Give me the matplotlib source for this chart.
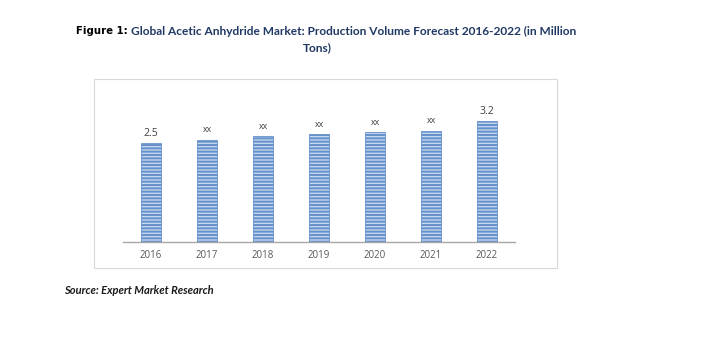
import matplotlib.pyplot as plt
from matplotlib.patches import Rectangle

# data
years = ['2016', '2017', '2018', '2019', '2020', '2021', '2022']
volume = [2.5, 2.6, 2.72, 2.78, 2.84, 2.89, 3.2]
value_labels = ['2.5', 'xx', 'xx', 'xx', 'xx', 'xx', '3.2']

plt.rcParams['hatch.linewidth'] = 1.4

W, H = 702, 339
fig = plt.figure(figsize=(W / 100, H / 100), dpi=100)
fig.patch.set_facecolor('white')

# outer chart frame (light grey)
fig.patches.append(Rectangle((94 / W, 1 - 268 / H), (557 - 94) / W, (268 - 79) / H,
                             transform=fig.transFigure, fill=False,
                             edgecolor='#d9d9d9', linewidth=0.8))

# plot area in pixel coords
left, right, top, bottom = 123, 515, 95, 241.7
ax = fig.add_axes([left / W, 1 - bottom / H, (right - left) / W, (bottom - top) / H])

# the value axis of the original does not start at zero
base = -0.64
x = range(len(years))
bars = ax.bar(x, [v - base for v in volume], bottom=base, width=0.37,
              color='#c4d6ee', edgecolor='#6490cb', hatch='-----', linewidth=0.6)
ax.set_xlim(-0.5, 6.5)
ax.set_ylim(base, 4.03)

for xi, v, lab in zip(x, volume, value_labels):
    small = lab == 'xx'
    ax.annotate(lab, (xi, v),
                xytext=(0, 4 if small else 3), textcoords='offset points',
                ha='center', va='bottom', fontsize=6.3 if small else 7.5,
                color='#404040', family='Open Sans')

ax.set_xticks(list(x))
ax.set_xticklabels(years, fontsize=7, color='#595959', family='Open Sans')
ax.tick_params(axis='x', length=0, pad=6)
ax.set_yticks([])
for s in ['top', 'right', 'left']:
    ax.spines[s].set_visible(False)
ax.spines['bottom'].set_color('#a6a6a6')
ax.spines['bottom'].set_linewidth(1.0)

# title
fig.text(76 / W, 1 - 31.5 / H, 'Figure 1:', fontsize=7.3, fontweight='bold',
         color='black', family='DejaVu Sans', va='center', ha='left')
fig.text(131 / W, 1 - 31.5 / H,
         'Global Acetic Anhydride Market: Production Volume Forecast 2016-2022 (in Million',
         fontsize=8.6, fontweight='bold', color='#1f3864', family='Lato',
         va='center', ha='left')
fig.text(317 / W, 1 - 48 / H, 'Tons)', fontsize=8.6, fontweight='bold',
         color='#1f3864', family='Lato', va='center', ha='center')

# source note
fig.text(64 / W, 1 - 291 / H, 'Source: Expert Market Research', fontsize=8,
         fontweight='bold', fontstyle='italic', color='#1a1a1a', family='Lato',
         va='center', ha='left')

plt.savefig('out.png', dpi=100)
